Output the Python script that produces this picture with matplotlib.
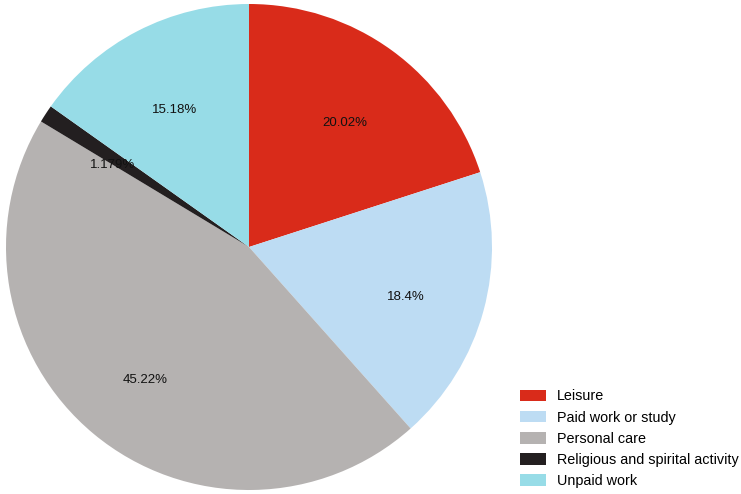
import numpy as np
import matplotlib.pyplot as plt

plt.rcParams['font.family'] = ['Liberation Sans', 'DejaVu Sans']

categories = ['Leisure', 'Paid work or study', 'Personal care',
              'Religious and spirital activity', 'Unpaid work']
shares = [20.02, 18.4, 45.22, 1.179, 15.18]
colors = ['#d92b1a', '#bddcf3', '#b5b2b1', '#231f20', '#97dce7']

fig = plt.figure(figsize=(7.41, 4.94), dpi=100)
ax = fig.add_axes([6/741, 4/494, 486/741, 486/494])

labels = [f'{v:g}%' for v in shares]
wedges, _ = ax.pie(shares, colors=colors, startangle=90, counterclock=False,
                   radius=1.0)
for w, lab in zip(wedges, labels):
    ang = np.deg2rad((w.theta1 + w.theta2) / 2)
    ax.text(0.67 * np.cos(ang), 0.67 * np.sin(ang) - 0.03, lab, ha='center',
            va='center', fontsize=9.5, color='#111111')
ax.set_xlim(-1, 1)
ax.set_ylim(-1, 1)
ax.set_aspect('equal')
ax.axis('off')

fig.legend(wedges, categories, loc='lower left',
           bbox_to_anchor=(514/741, 0), frameon=False, fontsize=10.4,
           handlelength=1.8, handleheight=0.85, labelspacing=0.5,
           handletextpad=0.8, borderaxespad=0.0)

fig.savefig('out.png', dpi=100)
